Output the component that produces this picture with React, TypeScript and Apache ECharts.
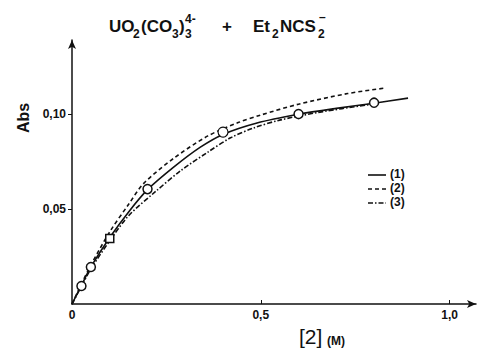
import React, { useEffect, useRef } from "react";
import * as echarts from "echarts";

// Experimental points [2] (M), Abs
const pointsCircle: [number, number][] = [
  [0.025, 0.0095],
  [0.05, 0.0195],
  [0.2, 0.0605],
  [0.6, 0.1],
  [0.8, 0.106],
];
const pointsOpen: [number, number][] = [[0.4, 0.0905]];
const pointsSquare: [number, number][] = [[0.1, 0.0345]];

// Curve (1) solid
const curve1: [number, number][] = [
  [0, 0], [0.025, 0.0098], [0.05, 0.0195], [0.1, 0.035], [0.15, 0.0485],
  [0.2, 0.0602], [0.27, 0.0722], [0.34, 0.0826], [0.4, 0.0893], [0.49, 0.0953],
  [0.6, 0.0999], [0.7, 0.103], [0.8, 0.1057], [0.89, 0.1084],
];
// Curve (2) dashed
const curve2: [number, number][] = [
  [0, 0], [0.025, 0.0105], [0.05, 0.0205], [0.1, 0.038], [0.15, 0.0525],
  [0.19, 0.0635], [0.27, 0.0768], [0.36, 0.0885], [0.44, 0.0955], [0.5, 0.0995],
  [0.6, 0.1052], [0.73, 0.1108], [0.83, 0.1137],
];
// Curve (3) dash-dot
const curve3: [number, number][] = [
  [0, 0], [0.025, 0.0093], [0.05, 0.0185], [0.1, 0.0333], [0.15, 0.0465],
  [0.22, 0.059], [0.29, 0.0705], [0.36, 0.08], [0.42, 0.0875], [0.48, 0.0926],
  [0.55, 0.0968], [0.65, 0.1008], [0.8, 0.1054],
];

const xTickValues = [0, 0.5, 1.0];
const xTickLabels = ["0", "0,5", "1,0"];
const yTickValues = [0.05, 0.1];
const yTickLabels = ["0,05", "0,10"];
const legendLabels = ["(1)", "(2)", "(3)"];

const FONT = "Liberation Sans, Arial, sans-serif";

export default function App() {
  const ref = useRef<HTMLDivElement>(null);
  useEffect(() => {
    if (!ref.current) return;
    const chart = echarts.init(ref.current, null, { renderer: "svg" });
    const black = "#111";
    const lineStyleBase = { color: black, width: 1.6 };
    const legendY = [175, 189, 203];
    const legendDash: any[] = ["solid", [4, 3], [5, 2, 1.5, 2]];

    const graphic: any[] = [
      // title pieces
      { type: "text", left: 109, top: 18, style: { text: "UO", font: `bold 17px ${FONT}`, fill: black } },
      { type: "text", left: 133, top: 28, style: { text: "2", font: `bold 12px ${FONT}`, fill: black } },
      { type: "text", left: 141, top: 18, style: { text: "(CO", font: `bold 17px ${FONT}`, fill: black } },
      { type: "text", left: 172, top: 28, style: { text: "3", font: `bold 12px ${FONT}`, fill: black } },
      { type: "text", left: 179, top: 18, style: { text: ")", font: `bold 17px ${FONT}`, fill: black } },
      { type: "text", left: 185, top: 28, style: { text: "3", font: `bold 12px ${FONT}`, fill: black } },
      { type: "text", left: 185, top: 13, style: { text: "4-", font: `bold 12px ${FONT}`, fill: black } },
      { type: "text", left: 222, top: 18, style: { text: "+", font: `bold 17px ${FONT}`, fill: black } },
      { type: "text", left: 253, top: 18, style: { text: "Et", font: `bold 17px ${FONT}`, fill: black } },
      { type: "text", left: 272, top: 28, style: { text: "2", font: `bold 12px ${FONT}`, fill: black } },
      { type: "text", left: 280, top: 18, style: { text: "NCS", font: `bold 17px ${FONT}`, fill: black } },
      { type: "text", left: 318, top: 28, style: { text: "2", font: `bold 12px ${FONT}`, fill: black } },
      { type: "text", left: 319, top: 11, style: { text: "–", font: `bold 12px ${FONT}`, fill: black } },
      // y axis name
      {
        type: "text", x: 23, y: 118, rotation: Math.PI / 2,
        style: { text: "Abs", font: `bold 16px ${FONT}`, fill: black, align: "center", verticalAlign: "middle" },
      },
      // x axis name
      { type: "text", left: 299, top: 326, style: { text: "[2]", font: `21px ${FONT}`, fill: black } },
      { type: "text", left: 327, top: 335, style: { text: "(M)", font: `bold 12px ${FONT}`, fill: black } },
    ];
    legendLabels.forEach((lab, i) => {
      graphic.push({
        type: "line",
        shape: { x1: 368, y1: legendY[i], x2: 386, y2: legendY[i] },
        style: { stroke: black, lineWidth: 1.6, lineDash: legendDash[i] === "solid" ? null : legendDash[i] },
      });
      graphic.push({
        type: "text", left: 390, top: legendY[i] - 7,
        style: { text: lab, font: `bold 12px ${FONT}`, fill: black },
      });
    });

    chart.setOption({
      animation: false,
      backgroundColor: "#fff",
      grid: { left: 72, right: 4, top: 40, bottom: 45, containLabel: false },
      xAxis: {
        type: "value", min: 0, max: 1.07,
        axisLine: { show: true, lineStyle: { color: black, width: 1.5 }, symbol: ["none", "arrow"], symbolSize: [6, 9] },
        axisTick: { show: true, inside: true, length: 4, lineStyle: { color: black }, customValues: [0.5, 1.0] },
        axisLabel: {
          show: true, customValues: xTickValues, margin: 5,
          formatter: (v: number) => {
            const i = xTickValues.findIndex((t) => Math.abs(t - v) < 1e-6);
            return i >= 0 ? xTickLabels[i] : "";
          },
          color: black, fontFamily: FONT, fontWeight: "bold", fontSize: 12,
        },
        splitLine: { show: false },
      },
      yAxis: {
        type: "value", min: 0, max: 0.139,
        axisLine: { show: true, lineStyle: { color: black, width: 1.5 }, symbol: ["none", "arrow"], symbolSize: [6, 9] },
        axisTick: { show: true, inside: false, length: 4, lineStyle: { color: black }, customValues: yTickValues },
        axisLabel: {
          show: true, customValues: yTickValues, margin: 6,
          formatter: (v: number) => {
            const i = yTickValues.findIndex((t) => Math.abs(t - v) < 1e-6);
            return i >= 0 ? yTickLabels[i] : "";
          },
          color: black, fontFamily: FONT, fontWeight: "bold", fontSize: 12,
        },
        splitLine: { show: false },
      },
      graphic,
      series: [
        { type: "line", data: curve1, smooth: 0.3, symbol: "none", lineStyle: { ...lineStyleBase, type: "solid" }, z: 3 },
        { type: "line", data: curve2, smooth: 0.3, symbol: "none", lineStyle: { ...lineStyleBase, type: [4, 3] }, z: 3 },
        { type: "line", data: curve3, smooth: 0.3, symbol: "none", lineStyle: { ...lineStyleBase, type: [5, 2, 1.5, 2] }, z: 3 },
        {
          type: "scatter", data: pointsCircle, symbol: "circle", symbolSize: 9, z: 4,
          itemStyle: { color: "#fff", borderColor: black, borderWidth: 1.5, opacity: 1 },
        },
        {
          type: "scatter", data: pointsOpen, symbol: "circle", symbolSize: 10, z: 4,
          itemStyle: { color: "#fff", borderColor: black, borderWidth: 1.2, opacity: 1 },
        },
        {
          type: "scatter", data: pointsSquare, symbol: "rect", symbolSize: 8, z: 4,
          itemStyle: { color: "#fff", borderColor: black, borderWidth: 1.5, opacity: 1 },
        },
      ],
    });
    return () => chart.dispose();
  }, []);
  return <div ref={ref} style={{ position: "fixed", left: 0, top: 0, width: 480, height: 349 }} />;
}
